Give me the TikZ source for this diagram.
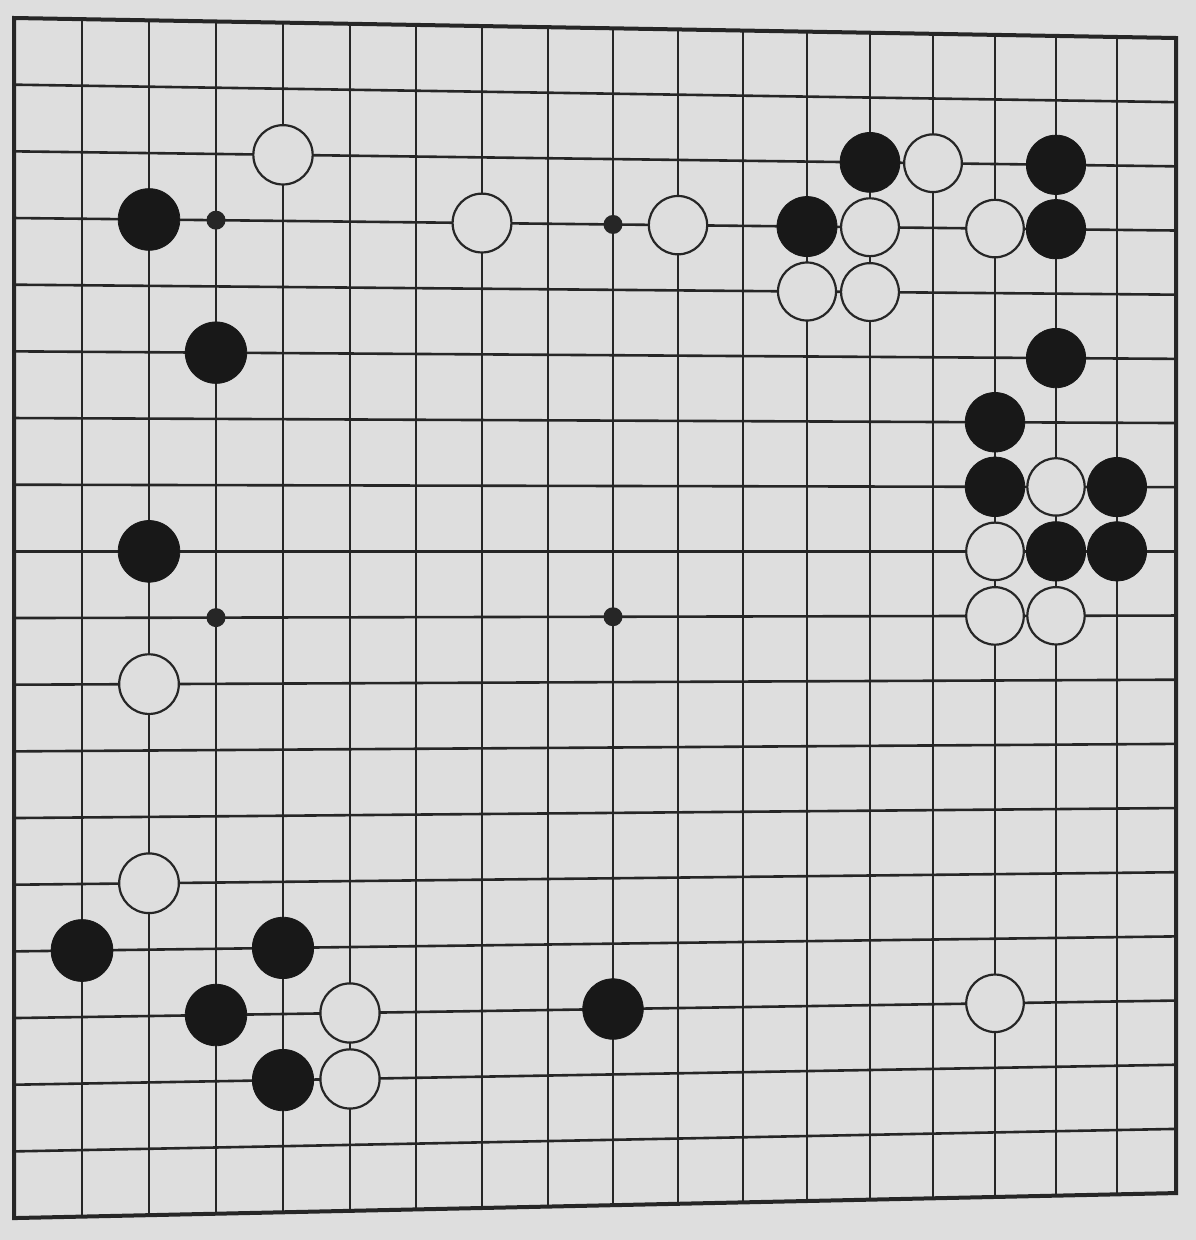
\documentclass[tikz,border=0pt]{standalone}
\definecolor{paper}{RGB}{222,222,222}
\definecolor{ink}{RGB}{38,38,38}
\definecolor{stoneblack}{RGB}{24,24,24}
\tikzset{
  gridline/.style={draw=ink, line width=2.6pt},
  boardedge/.style={draw=ink, line width=4pt, line join=miter},
  blackstone/.style={circle, fill=stoneblack, draw=stoneblack, line width=0.8pt, inner sep=0pt},
  whitestone/.style={circle, fill=paper, draw=ink, line width=2.2pt, inner sep=0pt},
  starpoint/.style={circle, fill=ink, inner sep=0pt, minimum size=19pt},
}
\begin{document}
\begin{tikzpicture}[x=1pt,y=-1pt]
\useasboundingbox (0,0) rectangle (1196,1240);
\fill[paper] (0,0) rectangle (1196,1240);
% grid intersection coordinates (slight perspective as in the photo)
\foreach \i in {1,...,19} {
  \foreach \j in {1,...,19} {
    \pgfmathsetmacro\xx{{14,82,149,216,283,350,416,482,548,613,678,743,807,870,933,995,1056,1117,1176}[\i-1]}
    \pgfmathsetmacro\tt{(\xx-14)/1162}
    \pgfmathsetmacro\yy{18+66.67*(\j-1)+(20-2.5*(\j-1))*\tt}
    \coordinate (p-\i-\j) at (\xx,\yy);
  }
}
% grid lines
\foreach \k in {2,...,18} {
  \draw[gridline] (p-\k-1) -- (p-\k-19);
  \draw[gridline] (p-1-\k) -- (p-19-\k);
}
\draw[boardedge] (p-1-1) -- (p-19-1) -- (p-19-19) -- (p-1-19) -- cycle;
% star points
\foreach \c/\r in {4/4,10/4,16/4,4/10,10/10,16/10,4/16,10/16,16/16}
  \node[starpoint] (s-\c-\r) at (p-\c-\r) {};
% black stones
\foreach \c/\r in {14/3,17/3,3/4,13/4,17/4,4/6,17/6,16/7,16/8,18/8,3/9,17/9,18/9,2/15,5/15,4/16,10/16,5/17} {
  \pgfmathsetmacro\sz{62-3*(\c-1)/18}
  \node[blackstone, minimum size=\sz pt] (b-\c-\r) at (p-\c-\r) {};
}
% white stones
\foreach \c/\r in {5/3,15/3,8/4,11/4,14/4,16/4,13/5,14/5,17/8,16/9,16/10,17/10,3/11,3/14,6/16,16/16,6/17} {
  \pgfmathsetmacro\sz{60-3*(\c-1)/18}
  \node[whitestone, minimum size=\sz pt] (w-\c-\r) at (p-\c-\r) {};
}
\end{tikzpicture}
\end{document}
